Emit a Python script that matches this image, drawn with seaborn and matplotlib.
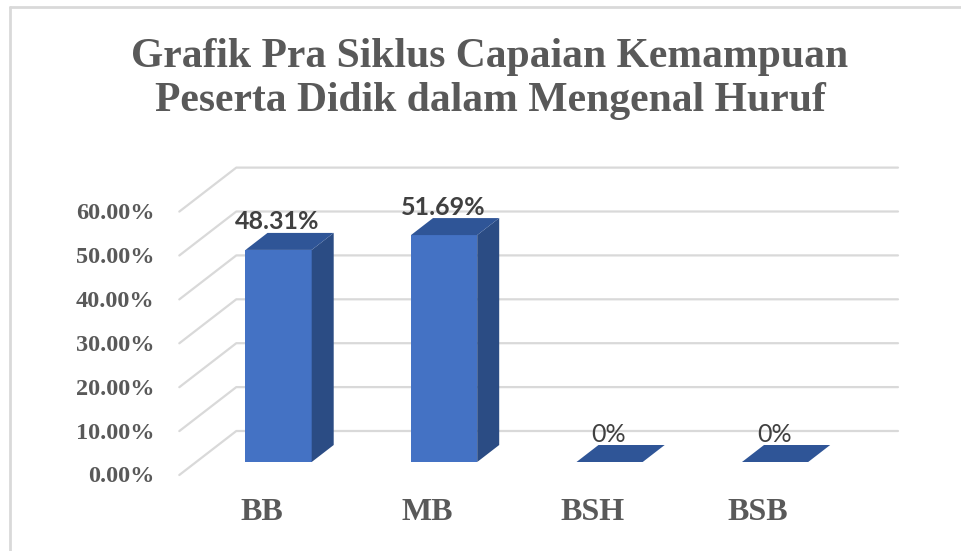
import matplotlib
matplotlib.use("Agg")
import matplotlib.pyplot as plt
import seaborn as sns
import pandas as pd
from matplotlib.patches import Polygon
from matplotlib.lines import Line2D

categories = ["BB", "MB", "BSH", "BSB"]
values = [48.31, 51.69, 0.0, 0.0]
value_labels = ["48.31%", "51.69%", "0%", "0%"]
yticks = [0, 10, 20, 30, 40, 50, 60]
ytick_labels = ["0.00%", "10.00%", "20.00%", "30.00%", "40.00%", "50.00%", "60.00%"]
title = "Grafik Pra Siklus Capaian Kemampuan\nPeserta Didik dalam Mengenal Huruf"

FRONT = "#4472C4"
SIDE = "#2B4C84"
TOP = "#2F5597"
GRID = "#D9D9D9"
TXT = "#595959"

sns.set_theme(style="white")
plt.rcParams["font.family"] = ["Liberation Serif", "DejaVu Serif"]

W, H, DPI = 962, 551, 100
fig = plt.figure(figsize=(W / DPI, H / DPI), dpi=DPI)

# pixel geometry of the projected plot
PX_X = 165.5   # pixels per category
PX_Y = 4.39    # pixels per percent
x0_px, y0_px = 278.6, 462.0
xlim = (-0.6, 3.9)
ylim = (-5, 70)
left = (x0_px + xlim[0] * PX_X) / W
right = (x0_px + xlim[1] * PX_X) / W
bottom = (H - (y0_px - ylim[0] * PX_Y)) / H
top = (H - (y0_px - ylim[1] * PX_Y)) / H
ax = fig.add_axes([left, bottom, right - left, top - bottom])

df = pd.DataFrame({"cat": categories, "val": values})
sns.barplot(data=df, x="cat", y="val", ax=ax, color=FRONT, width=0.4,
            saturation=1, edgecolor="none", zorder=3)
ax.set_xlim(*xlim)
ax.set_ylim(*ylim)
ax.axis("off")

def dx(px):
    return px / PX_X

def dy(px):
    return px / PX_Y

# gridlines: diagonal on the side wall + horizontal on back wall
fx = xlim[0]
bx = fx + dx(57)
ex = dx(898 - x0_px)
for v, lab in zip(yticks, ytick_labels):
    yf = v - dy(13)
    yb = v + dy(31)
    ax.add_line(Line2D([fx, bx, ex], [yf, yb, yb], color=GRID, lw=1.6,
                       zorder=1, clip_on=False))
    ax.text(fx - dx(25), yf - dy(2), lab, ha="right", va="center",
            fontsize=17.5, fontweight="bold", color=TXT, clip_on=False)

# 3D faces of the bars, derived from the seaborn bar patches
ddx, ddy = dx(22), dy(17)
for i, p in enumerate(ax.patches[:len(values)]):
    x_l = p.get_x()
    x_r = x_l + p.get_width()
    h = p.get_height()
    side = Polygon([[x_r, 0], [x_r, h], [x_r + ddx, h + ddy], [x_r + ddx, ddy]],
                   closed=True, facecolor=SIDE, edgecolor="none", zorder=3,
                   clip_on=False)
    topf = Polygon([[x_l, h], [x_r, h], [x_r + ddx, h + ddy], [x_l + ddx, h + ddy]],
                   closed=True, facecolor=TOP, edgecolor="none", zorder=4,
                   clip_on=False)
    ax.add_patch(side)
    ax.add_patch(topf)
    cx = x_l + p.get_width() / 2
    weight = "bold" if h > 0 else "normal"
    ax.text(cx - dx(1), h + ddy + dy(11), value_labels[i], ha="center",
            va="center", fontsize=18, fontweight=weight, color="#404040",
            family=["Lato", "DejaVu Sans"], zorder=5, clip_on=False)
    ax.text(cx - dx(17), -dy(50), categories[i], ha="center", va="center",
            fontsize=23, fontweight="bold", color=TXT, clip_on=False)

# title
fig.text(490 / W, 1 - 79 / H, title, ha="center", va="center",
         fontsize=30, fontweight="bold", color=TXT, linespacing=1.2)

# chart area border (top and left visible)
fig.add_artist(Line2D([10 / W, 10 / W], [0, 1 - 7 / H], color=GRID, lw=2,
                      transform=fig.transFigure))
fig.add_artist(Line2D([10 / W, 1], [1 - 7 / H, 1 - 7 / H], color=GRID, lw=2,
                      transform=fig.transFigure))

fig.savefig("out.png", dpi=DPI, facecolor="white")
